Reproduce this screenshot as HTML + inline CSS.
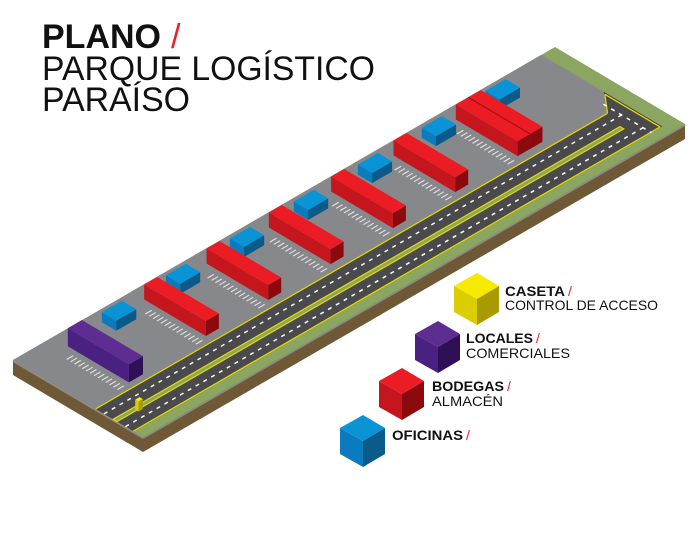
<!DOCTYPE html>
<html><head><meta charset="utf-8"><style>
html,body{margin:0;padding:0;background:#fff;}
svg{display:block;}
text{font-family:"Liberation Sans",sans-serif;}
</style></head><body>
<svg id="s" width="700" height="547" viewBox="0 0 700 547" xmlns="http://www.w3.org/2000/svg">
<g id="map"></g>
<text x="42" y="48" font-size="34" font-weight="bold" fill="#111" textLength="119" lengthAdjust="spacingAndGlyphs">PLANO</text>
<text x="171" y="48" font-size="34" fill="#e8202a">/</text>
<text x="42" y="80" font-size="34" fill="#111" textLength="333" lengthAdjust="spacingAndGlyphs">PARQUE LOGÍSTICO</text>
<text x="42" y="111" font-size="34" fill="#111" textLength="148" lengthAdjust="spacingAndGlyphs">PARAÍSO</text>
<g id="legend"></g>
<text x="505" y="296" font-size="14" font-weight="bold" fill="#111" textLength="60" lengthAdjust="spacingAndGlyphs">CASETA</text>
<text x="568" y="296" font-size="14" fill="#e8202a">/</text>
<text x="505" y="310" font-size="14" fill="#111" textLength="153" lengthAdjust="spacingAndGlyphs">CONTROL DE ACCESO</text>
<text x="466" y="343" font-size="14" font-weight="bold" fill="#111" textLength="67" lengthAdjust="spacingAndGlyphs">LOCALES</text>
<text x="536" y="343" font-size="14" fill="#e8202a">/</text>
<text x="466" y="358" font-size="14" fill="#111" textLength="104" lengthAdjust="spacingAndGlyphs">COMERCIALES</text>
<text x="432" y="391" font-size="14" font-weight="bold" fill="#111" textLength="72" lengthAdjust="spacingAndGlyphs">BODEGAS</text>
<text x="507" y="391" font-size="14" fill="#e8202a">/</text>
<text x="432" y="406" font-size="14" fill="#111" textLength="71" lengthAdjust="spacingAndGlyphs">ALMACÉN</text>
<text x="392" y="440" font-size="14" font-weight="bold" fill="#111" textLength="71" lengthAdjust="spacingAndGlyphs">OFICINAS</text>
<text x="466" y="440" font-size="14" fill="#e8202a">/</text>
</svg>
<script>
var NS="http://www.w3.org/2000/svg";
var map=document.getElementById('map'), leg=document.getElementById('legend');
function P(a,b,h){h=h||0;return [13+542*a+130*b,360-313*a+77*b-h];}
function poly(g,pts,fill,stroke,sw){var e=document.createElementNS(NS,'polygon');e.setAttribute('points',pts.map(function(p){return p[0].toFixed(1)+','+p[1].toFixed(1);}).join(' '));e.setAttribute('fill',fill);if(stroke){e.setAttribute('stroke',stroke);e.setAttribute('stroke-width',sw||1);}g.appendChild(e);return e;}
function line(g,p1,p2,col,sw,dash){var e=document.createElementNS(NS,'line');e.setAttribute('x1',p1[0]);e.setAttribute('y1',p1[1]);e.setAttribute('x2',p2[0]);e.setAttribute('y2',p2[1]);e.setAttribute('stroke',col);e.setAttribute('stroke-width',sw);if(dash)e.setAttribute('stroke-dasharray',dash);g.appendChild(e);}
// platform sides
poly(map,[P(0,0),P(0,1),P(0,1,-15),P(0,0,-15)],'#6e5836');
poly(map,[P(0,1),P(1,1),P(1,1,-15),P(0,1,-15)],'#6e5836');
line(map,P(0,0,-1),P(0,1,-1),'#8b8a80',2);line(map,P(0,1,-1),P(1,1,-1),'#8b8a80',2);
// top
poly(map,[P(0,0),P(1,0),P(1,1),P(0,1)],'#8aa660');
poly(map,[P(0,0),P(0.975,0),P(0.975,0.93),P(0,0.93)],'#87888c');
// road
poly(map,[P(0,0.63),P(0.9445,0.63),P(0.975,0.478),P(0.975,0.93),P(0,0.93)],'#4a4a4c');
line(map,P(0,0.635),P(0.9445,0.635),'#e6d800',1.3);
line(map,P(0.9445,0.635),P(0.972,0.5),'#e6d800',1.3);
line(map,P(0.972,0.5),P(0.972,0.925),'#e6d800',1.3);
line(map,P(0,0.925),P(0.972,0.925),'#e6d800',1.3);
poly(map,[P(0,0.77),P(0.935,0.77),P(0.935,0.80),P(0,0.80)],'#8aa660','#e6d800',1.2);
line(map,P(0,0.70),P(0.96,0.70),'#fff',1.5,'4 5');
line(map,P(0,0.865),P(0.96,0.865),'#fff',1.5,'4 5');
line(map,P(0.955,0.56),P(0.955,0.93),'#fff',1.5,'4 5');
// parking dashes
function dashes(a0,b0,b1){for(var b=b0;b<=b1;b+=0.03){line(map,P(a0-0.022,b),P(a0-0.01,b),'#ddd',1.2);}}
function box(a0,da,b0,b1,h,ct,cl,cr){
poly(map,[P(a0,b0,h),P(a0,b1,h),P(a0,b1,0),P(a0,b0,0)],cl);
poly(map,[P(a0,b1,h),P(a0+da,b1,h),P(a0+da,b1,0),P(a0,b1,0)],cr);
poly(map,[P(a0,b0,h),P(a0+da,b0,h),P(a0+da,b1,h),P(a0,b1,h)],ct);}
var R=['#ec1c24','#c6161d','#8b0a0e'],B=['#0a93d5','#0a7bbf','#0a5a8a'],V=['#5e2d91','#4a2080','#2f0f55'];
// draw back to front (high a first)
var items=[];
for(var k=0;k<7;k++){items.push({a:0.1425+0.118*k,t:'b'});}
for(var k=0;k<6;k++){items.push({a:0.218+0.115*k,t:'r',k:k});}
items.push({a:0.073,t:'p'});
items.sort(function(x,y){return y.a-x.a;});
items.forEach(function(it){
 if(it.t=='b'){box(it.a,0.037,0.09,0.2,10,B[0],B[1],B[2]);}
 else if(it.t=='r'){var dbl=it.k==5;dashes(it.a,0.2,0.6);box(it.a,dbl?0.046:0.024,0.1,0.575,15,R[0],R[1],R[2]);
  if(dbl){line(map,P(it.a+0.023,0.1,15),P(it.a+0.023,0.575,15),'#9a0c10',1);line(map,P(it.a+0.023,0.575,15),P(it.a+0.023,0.575,0),'#9a0c10',1);}}
 else {dashes(it.a,0.2,0.6);box(it.a,0.026,0.117,0.587,18,V[0],V[1],V[2]);}
});
box(0.036,0.008,0.79,0.815,10,'#f5ea00','#dccd00','#a89a00');
// legend cubes
function cube(dx,dy,c){var cx=477+dx,cy=299+dy;
poly(leg,[[cx,cy-26],[cx+22,cy-13],[cx,cy],[cx-23,cy-13]],c[0]);
poly(leg,[[cx-23,cy-13],[cx,cy],[cx,cy+26],[cx-23,cy+13]],c[1]);
poly(leg,[[cx,cy],[cx+22,cy-13],[cx+22,cy+13],[cx,cy+26]],c[2]);}
cube(0,0,['#f5ea00','#dccd00','#a89a00']);
cube(-39,48,V);cube(-75,95,R);cube(-114,142,B);
</script>
</body></html>
